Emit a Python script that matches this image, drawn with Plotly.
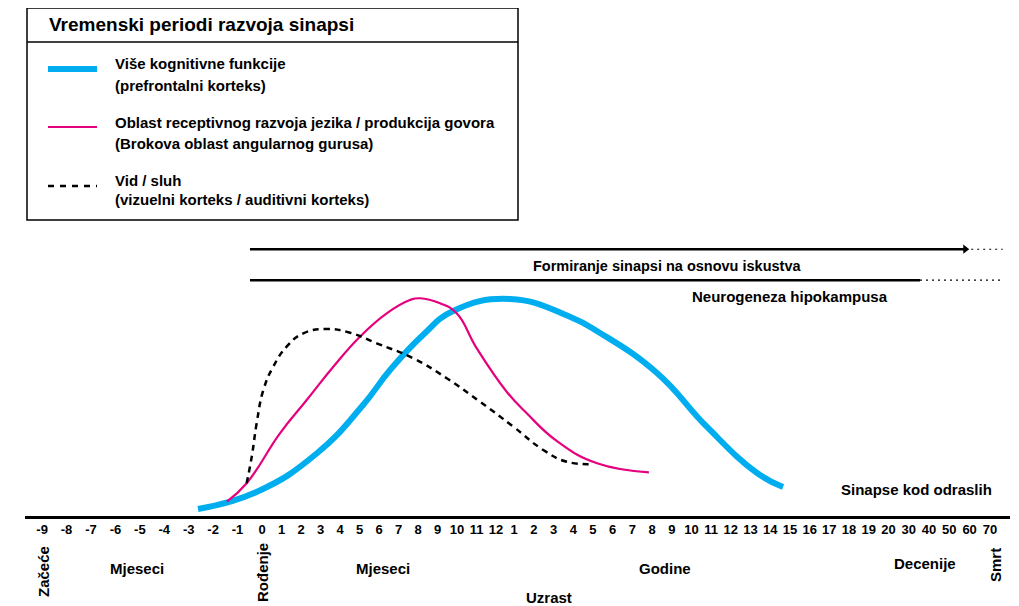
import plotly.graph_objects as go

# ---------------- data ----------------
# x in axis units (0 = birth, 1 unit ~ one post-natal month spacing); y = relative synapse density
blue_x = [-3.25, -0.25, 2.79, 5.13, 6.50, 8.17, 9.70, 12.59, 15.63, 17.16, 20.05, 22.59, 25.13, 26.45]
blue_y = [1.36, 4.71, 12.15, 21.51, 28.29, 35.08, 39.73, 42.05, 38.62, 35.47, 27.71, 17.25, 8.33, 5.62]

pink_x = [-1.78, -0.78, 0.91, 2.27, 3.62, 4.97, 6.33, 7.51, 8.02, 9.04, 9.88, 10.90, 12.42, 13.44, 15.01, 17.01, 19.64]
pink_y = [2.77, 6.34, 16.03, 22.48, 28.93, 34.75, 39.28, 41.86, 42.2, 41.22, 39.28, 32.50, 24.09, 19.90, 14.40, 10.21, 8.47]

dash_x = [-0.78, -0.52, -0.27, 0.07, 0.57, 1.25, 2.10, 3.28, 4.47, 5.82, 7.68, 9.38, 11.07, 12.76, 14.28, 15.47, 16.82]
dash_y = [6.34, 11.49, 17.97, 24.42, 28.93, 32.81, 35.41, 36.24, 35.52, 33.47, 30.56, 26.69, 22.15, 17.31, 12.79, 10.52, 10.08]

prenatal_labels = ["-9", "-8", "-7", "-6", "-5", "-4", "-3", "-2", "-1"]
month_labels = ["0", "1", "2", "3", "4", "5", "6", "7", "8", "9", "10", "11", "12"]
year_labels = [str(v) for v in [1, 2, 3, 4, 5, 6, 7, 8, 9, 10, 11, 12, 13, 14, 15, 16, 17, 18, 19, 20]]
decade_labels = ["30", "40", "50", "60", "70"]

# experience / neurogenesis periods (axis units): start, solid end, dotted end
exp_period = [-0.61, 35.7, 37.6]
neuro_period = [-0.61, 33.4, 37.6]
exp_level = 51.7
neuro_level = 45.7

series_names = ["Više kognitivne funkcije", "Oblast receptivnog razvoja jezika / produkcija govora", "Vid / sluh"]

# ---------------- ticks ----------------
tickvals, ticktext = [], []
for i, t in enumerate(prenatal_labels):
    tickvals.append((i - 9) * 1.24); ticktext.append(t)
for i, t in enumerate(month_labels):
    tickvals.append(i * 0.99); ticktext.append(t)
for i, t in enumerate(year_labels):
    tickvals.append(12.8 + i * 1.0); ticktext.append(t)
for i, t in enumerate(decade_labels):
    tickvals.append(31.8 + (i + 1) * 1.03); ticktext.append(t)

FONT = "Liberation Sans, Arial, sans-serif"
BLUE = "#00AEEF"
PINK = "#E5007E"
SMOOTH = 1.3

OFF = 8  # page body margin
W, H = 1019 - OFF, 606 - OFF

def P(px, py):
    return (px - OFF) / W, 1 - (py - OFF) / H

fig = go.Figure()
fig.add_trace(go.Scatter(x=blue_x, y=blue_y, mode="lines", line=dict(color=BLUE, width=6, shape="spline", smoothing=SMOOTH), name=series_names[0]))
fig.add_trace(go.Scatter(x=pink_x, y=pink_y, mode="lines", line=dict(color=PINK, width=2.2, shape="spline", smoothing=SMOOTH), name=series_names[1]))
fig.add_trace(go.Scatter(x=dash_x, y=dash_y, mode="lines", line=dict(color="black", width=2.5, shape="spline", smoothing=SMOOTH, dash="6px,5px"), name=series_names[2]))

# period lines
fig.add_trace(go.Scatter(x=exp_period[:2], y=[exp_level] * 2, mode="lines", line=dict(color="black", width=2.5)))
fig.add_trace(go.Scatter(x=[exp_period[1]], y=[exp_level], mode="markers",
                         marker=dict(symbol="triangle-right", size=8, color="black")))
fig.add_trace(go.Scatter(x=[exp_period[1] + 0.3, exp_period[2]], y=[exp_level] * 2, mode="lines",
                         line=dict(color="black", width=1.2, dash="2px,4px")))
fig.add_trace(go.Scatter(x=neuro_period[:2], y=[neuro_level] * 2, mode="lines", line=dict(color="black", width=2.5)))
fig.add_trace(go.Scatter(x=neuro_period[1:], y=[neuro_level] * 2, mode="lines",
                         line=dict(color="black", width=1.2, dash="2px,4px")))

shapes = []
annotations = []

# legend box
x0, y0 = P(27, 8)
x1, y1 = P(518, 220)
shapes.append(dict(type="rect", xref="paper", yref="paper", x0=x0, y0=y1, x1=x1, y1=y0,
                   line=dict(color="black", width=1.5), fillcolor="white", layer="above"))
sx0, sy = P(27, 42)
sx1, _ = P(518, 42)
shapes.append(dict(type="line", xref="paper", yref="paper", x0=sx0, x1=sx1, y0=sy, y1=sy,
                   line=dict(color="black", width=1.5)))

def text(px, py, s, size=15, xanchor="left", angle=0):
    x, y = P(px, py)
    annotations.append(dict(x=x, y=y, xref="paper", yref="paper", text=s, showarrow=False,
                            xanchor=xanchor, yanchor="middle", textangle=angle,
                            font=dict(family=FONT, size=size, color="black")))

def legline(py, color, width, dash="solid"):
    lx0, ly = P(48, py)
    lx1, _ = P(97, py)
    shapes.append(dict(type="line", xref="paper", yref="paper", x0=lx0, x1=lx1, y0=ly, y1=ly,
                       line=dict(color=color, width=width, dash=dash)))

text(47, 25, "<b>Vremenski periodi razvoja sinapsi</b>", size=19)
legline(69, BLUE, 6)
text(113, 63, "<b>Više kognitivne funkcije</b>")
text(113, 85, "<b>(prefrontalni korteks)</b>")
legline(127, PINK, 2.2)
text(113, 123, "<b>Oblast receptivnog razvoja jezika / produkcija govora</b>")
text(113, 144, "<b>(Brokova oblast angularnog gurusa)</b>")
legline(186, "black", 2.5, "6px,6px")
text(113, 180, "<b>Vid / sluh</b>")
text(113, 199, "<b>(vizuelni korteks / auditivni korteks)</b>")

text(667, 266, "<b>Formiranje sinapsi na osnovu iskustva</b>", size=14.5, xanchor="center")
text(790, 296, "<b>Neurogeneza hipokampusa</b>", xanchor="center")
text(916, 489, "<b>Sinapse kod odraslih</b>", xanchor="center")

text(43, 572, "<b>Začeće</b>", xanchor="center", angle=-90)
text(137, 568, "<b>Mjeseci</b>", xanchor="center")
text(262, 573, "<b>Rođenje</b>", xanchor="center", angle=-90)
text(383, 568, "<b>Mjeseci</b>", xanchor="center")
text(665, 568, "<b>Godine</b>", xanchor="center")
text(925, 563, "<b>Decenije</b>", xanchor="center")
text(995, 565, "<b>Smrt</b>", xanchor="center", angle=-90)
text(549, 597, "<b>Uzrast</b>", xanchor="center")

axis_px = 516
fig.update_layout(
    width=W, height=H,
    margin=dict(l=0, r=0, t=0, b=0),
    paper_bgcolor="white", plot_bgcolor="white",
    showlegend=False,
    shapes=shapes, annotations=annotations,
    xaxis=dict(domain=[(25 - OFF) / W, (1010 - OFF) / W], range=[-12.03, 37.97], showgrid=False, zeroline=False,
               showline=True, linecolor="black", linewidth=2.5, ticks="",
               tickmode="array", tickvals=tickvals, ticktext=["<b>%s</b>" % t for t in ticktext],
               tickfont=dict(family=FONT, size=13, color="black"), fixedrange=True),
    yaxis=dict(domain=[(606 - axis_px) / H, 1], range=[0, (axis_px - OFF) / 5.16], visible=False, fixedrange=True),
)

fig.write_html("out.html")
